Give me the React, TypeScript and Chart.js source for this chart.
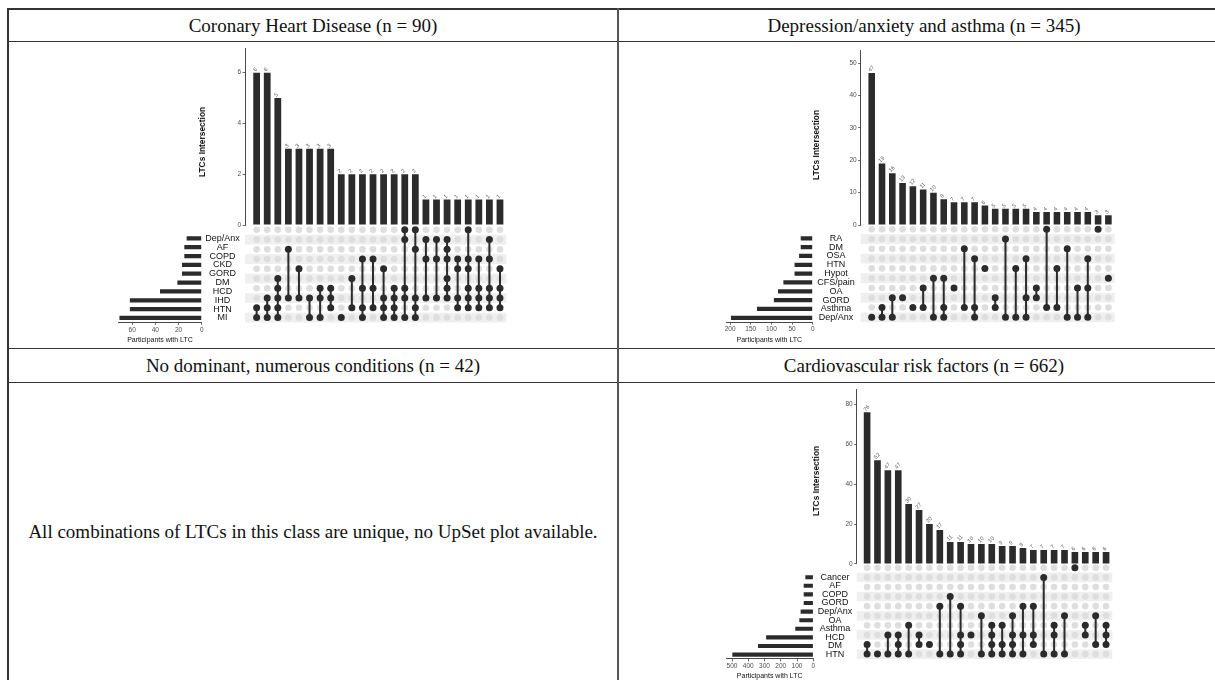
import React, { useEffect, useRef } from "react";
import { Chart, registerables } from "chart.js";

Chart.register(...registerables);
Chart.defaults.font.family = "'Liberation Sans', Arial, sans-serif";

// ---------------- Coronary Heart Disease ----------------
const chdSets = ["Dep/Anx", "AF", "COPD", "CKD", "GORD", "DM", "HCD", "IHD", "HTN", "MI"];
const chdSetSizes = [13, 15, 15, 17, 17, 21, 36, 62, 62, 71];
const chdCounts = [6, 6, 5, 3, 3, 3, 3, 3, 2, 2, 2, 2, 2, 2, 2, 2, 1, 1, 1, 1, 1, 1, 1, 1];
const chdCombos = [
  ["HTN", "MI"],
  ["IHD", "HTN", "MI"],
  ["DM", "HCD", "IHD", "HTN", "MI"],
  ["COPD", "IHD"],
  ["GORD", "IHD"],
  ["IHD", "MI"],
  ["HCD", "IHD", "MI"],
  ["HCD", "IHD", "HTN"],
  ["MI"],
  ["DM", "HTN"],
  ["CKD", "HCD", "HTN", "MI"],
  ["CKD", "HCD", "HTN"],
  ["GORD", "IHD", "HTN", "MI"],
  ["HCD", "IHD", "HTN", "MI"],
  ["Dep/Anx", "AF", "HCD", "IHD", "MI"],
  ["Dep/Anx", "COPD", "IHD", "HTN", "MI"],
  ["AF", "CKD", "IHD"],
  ["AF", "CKD", "IHD"],
  ["AF", "COPD", "CKD", "DM", "HCD", "IHD"],
  ["CKD", "GORD", "IHD", "HTN"],
  ["Dep/Anx", "CKD", "GORD", "HCD", "IHD", "HTN"],
  ["CKD", "HCD", "IHD", "HTN"],
  ["AF", "CKD", "HCD", "IHD", "HTN"],
  ["GORD", "HCD", "IHD", "HTN"],
];
const chdCountTicks = [0, 2, 4, 6];
const chdSizeTicks = [0, 20, 40, 60];

// ---------------- Depression/anxiety and asthma ----------------
const daSets = ["RA", "DM", "OSA", "HTN", "Hypot", "CFS/pain", "OA", "GORD", "Asthma", "Dep/Anx"];
const daSetSizes = [29, 29, 33, 44, 44, 71, 84, 94, 135, 198];
const daCounts = [47, 19, 16, 13, 12, 11, 10, 8, 7, 7, 7, 6, 5, 5, 5, 5, 4, 4, 4, 4, 4, 4, 3, 3];
const daCombos = [
  ["Dep/Anx"],
  ["Asthma", "Dep/Anx"],
  ["GORD", "Dep/Anx"],
  ["GORD"],
  ["Asthma"],
  ["OA", "Asthma"],
  ["CFS/pain", "Dep/Anx"],
  ["CFS/pain", "Asthma", "Dep/Anx"],
  ["OA"],
  ["OSA", "Asthma"],
  ["HTN", "Asthma", "Dep/Anx"],
  ["Hypot"],
  ["GORD", "Asthma"],
  ["DM", "Dep/Anx"],
  ["Hypot", "Dep/Anx"],
  ["HTN", "GORD", "Dep/Anx"],
  ["OA", "GORD"],
  ["RA", "Asthma"],
  ["Hypot", "Asthma"],
  ["OSA", "Dep/Anx"],
  ["OA", "Dep/Anx"],
  ["HTN", "OA", "Dep/Anx"],
  ["RA"],
  ["CFS/pain"],
];
const daCountTicks = [0, 10, 20, 30, 40, 50];
const daSizeTicks = [0, 50, 100, 150, 200];

// ---------------- Cardiovascular risk factors ----------------
const cvSets = ["Cancer", "AF", "COPD", "GORD", "Dep/Anx", "OA", "Asthma", "HCD", "DM", "HTN"];
const cvSetSizes = [49, 59, 59, 59, 78, 86, 111, 290, 340, 498];
const cvCounts = [76, 52, 47, 47, 30, 27, 20, 17, 11, 11, 10, 10, 10, 9, 9, 8, 7, 7, 7, 7, 6, 6, 6, 6];
const cvCombos = [
  ["DM", "HTN"],
  ["HTN"],
  ["HCD", "HTN"],
  ["HCD", "DM", "HTN"],
  ["Asthma", "HTN"],
  ["HCD", "DM"],
  ["DM"],
  ["Dep/Anx", "HTN"],
  ["GORD", "HTN"],
  ["Dep/Anx", "HCD", "DM", "HTN"],
  ["HCD"],
  ["OA", "HTN"],
  ["Asthma", "HCD", "DM", "HTN"],
  ["Asthma", "DM", "HTN"],
  ["OA", "HCD", "DM", "HTN"],
  ["Dep/Anx", "HCD", "HTN"],
  ["Dep/Anx", "HCD", "DM"],
  ["AF", "HTN"],
  ["Asthma", "HCD", "HTN"],
  ["OA", "HTN"],
  ["Cancer"],
  ["Asthma", "HCD"],
  ["OA", "DM"],
  ["Asthma", "HCD", "DM"],
];
const cvCountTicks = [0, 20, 40, 60, 80];
const cvSizeTicks = [0, 100, 200, 300, 400, 500];

const DARK = "#2b2b2b";
const LIGHT = "#dedede";
const STRIPE = "#efefef";
const TICK_GREY = "#4d4d4d";

type Geom = {
  axisX: number; dx: number; xMin: number; xMax: number;
  barTop: number; barBottom: number; yMax: number;
  matTop: number; matBottom: number;
  zeroX: number; sizeLeft: number; sizeMax: number;
  titleX: number; titleY: number; labelPad: number;
};

function layoutOf(g: Geom) {
  const areaW = (g.xMax - g.xMin) * g.dx;
  const bL = Math.round(g.axisX - 40), bT = Math.round(g.barTop - 10);
  const bYW = g.axisX - bL;
  const bPadT = g.barTop - bT;
  const bW = Math.ceil(bYW + areaW + 6);
  const bH = Math.ceil(g.barBottom - bT + 6);
  const bPadR = bW - bYW - areaW;
  const bPadB = bH - (g.barBottom - bT);

  const matH = g.matBottom - g.matTop;
  const mL = Math.round(g.axisX - 6), mT = Math.round(g.matTop - 6);
  const mPadL = g.axisX - mL, mPadT = g.matTop - mT;
  const mW = Math.ceil(mPadL + areaW + 6), mH = Math.ceil(mPadT + matH + 6);
  const mPadR = mW - mPadL - areaW, mPadB = mH - mPadT - matH;

  const sL = Math.round(g.sizeLeft - 6), sT = Math.floor(g.matTop);
  const sPadL = g.sizeLeft - sL, sPadT = g.matTop - sT;
  const labW = g.axisX - g.zeroX;
  const barsW = g.zeroX - g.sizeLeft;
  const sW = Math.ceil(sPadL + barsW + labW);
  const sPadR = sW - sPadL - barsW - labW;
  const sH = Math.ceil(sPadT + matH + 24);
  const sAxisH = sH - sPadT - matH;

  return {
    bar: { left: bL, top: bT, w: bW, h: bH, yW: bYW, pad: { top: bPadT, right: bPadR, bottom: bPadB, left: 0 } },
    mat: { left: mL, top: mT, w: mW, h: mH, pad: { top: mPadT, right: mPadR, bottom: mPadB, left: mPadL } },
    size: { left: sL, top: sT, w: sW, h: sH, labW, axisH: sAxisH, pad: { top: sPadT, right: sPadR, bottom: 0, left: sPadL } },
  };
}

type UpSetProps = {
  sets: string[]; setSizes: number[]; counts: number[]; combos: string[][];
  countTicks: number[]; sizeTicks: number[]; g: Geom;
};

function UpSet({ sets, setSizes, counts, combos, countTicks, sizeTicks, g }: UpSetProps) {
  const barRef = useRef<HTMLCanvasElement>(null);
  const matRef = useRef<HTMLCanvasElement>(null);
  const sizeRef = useRef<HTMLCanvasElement>(null);
  const L = layoutOf(g);

  useEffect(() => {
    const charts: Chart[] = [];
    const n = sets.length;

    const valueLabels = {
      id: "valueLabels",
      afterDatasetsDraw(chart: any) {
        const meta = chart.getDatasetMeta(0);
        const ctx = chart.ctx;
        ctx.save();
        ctx.font = "5.5px 'Liberation Sans'";
        ctx.fillStyle = "#555";
        ctx.textAlign = "left";
        ctx.textBaseline = "middle";
        meta.data.forEach((el: any, i: number) => {
          ctx.save();
          ctx.translate(el.x - 2.5, el.y - 2);
          ctx.rotate(-Math.PI / 4);
          ctx.fillText(String(counts[i]), 0, 0);
          ctx.restore();
        });
        ctx.restore();
      },
    };

    // Intersection size bars
    charts.push(
      new Chart(barRef.current!, {
        type: "bar",
        data: {
          datasets: [
            {
              data: counts.map((c, i) => ({ x: i, y: c })),
              backgroundColor: DARK,
              barPercentage: 0.64,
              categoryPercentage: 1,
            },
          ],
        },
        options: {
          animation: false,
          responsive: false,
          maintainAspectRatio: false,
          layout: { padding: L.bar.pad },
          plugins: { legend: { display: false }, tooltip: { enabled: false } },
          scales: {
            x: { type: "linear", min: g.xMin, max: g.xMax, display: false, offset: false },
            y: {
              type: "linear",
              min: 0,
              max: g.yMax,
              afterFit: (s: any) => { s.width = L.bar.yW; },
              afterBuildTicks: (s: any) => { s.ticks = countTicks.map((v) => ({ value: v })); },
              grid: { drawOnChartArea: false, tickLength: 2.5, color: "#444", lineWidth: 0.8 },
              border: { display: true, color: "#333", width: 0.9 },
              ticks: { font: { size: 6.5 }, color: TICK_GREY, padding: 1.5 },
            },
          },
        } as any,
        plugins: [valueLabels],
      })
    );

    // Matrix
    const rowOf = (name: string) => n - 1 - sets.indexOf(name);
    const activeKey = new Set<string>();
    const activePts: { x: number; y: number }[] = [];
    combos.forEach((c, i) => c.forEach((s) => { activeKey.add(i + ":" + rowOf(s)); activePts.push({ x: i, y: rowOf(s) }); }));
    const inactivePts: { x: number; y: number }[] = [];
    combos.forEach((_, i) => { for (let r = 0; r < n; r++) if (!activeKey.has(i + ":" + r)) inactivePts.push({ x: i, y: r }); });
    const lineSets = combos
      .map((c, i) => ({ i, rows: c.map(rowOf) }))
      .filter((o) => o.rows.length > 1)
      .map((o) => ({
        data: [{ x: o.i, y: Math.min(...o.rows) }, { x: o.i, y: Math.max(...o.rows) }],
        showLine: true,
        borderColor: DARK,
        borderWidth: 2,
        pointRadius: 0,
        clip: false,
        order: 1,
      }));

    const stripes = {
      id: "stripes",
      beforeDatasetsDraw(chart: any) {
        const { ctx, chartArea, scales } = chart;
        ctx.save();
        ctx.fillStyle = STRIPE;
        for (let r = 0; r < n; r += 2) {
          const y1 = scales.y.getPixelForValue(r + 0.5);
          const y2 = scales.y.getPixelForValue(r - 0.5);
          ctx.fillRect(chartArea.left, y1, chartArea.right - chartArea.left, y2 - y1);
        }
        ctx.restore();
      },
    };

    charts.push(
      new Chart(matRef.current!, {
        type: "scatter",
        data: {
          datasets: [
            { data: activePts, pointRadius: 3.5, backgroundColor: DARK, borderWidth: 0, clip: false, order: 0 },
            ...lineSets,
            { data: inactivePts, pointRadius: 3.3, backgroundColor: LIGHT, borderWidth: 0, clip: false, order: 2 },
          ],
        },
        options: {
          animation: false,
          responsive: false,
          maintainAspectRatio: false,
          layout: { padding: L.mat.pad },
          plugins: { legend: { display: false }, tooltip: { enabled: false } },
          scales: {
            x: { type: "linear", min: g.xMin, max: g.xMax, display: false },
            y: { type: "linear", min: -0.5, max: n - 0.5, display: false },
          },
        } as any,
        plugins: [stripes],
      })
    );

    // Set sizes
    charts.push(
      new Chart(sizeRef.current!, {
        type: "bar",
        data: {
          labels: sets,
          datasets: [{ data: setSizes, backgroundColor: DARK, barPercentage: 0.48, categoryPercentage: 1 }],
        },
        options: {
          indexAxis: "y",
          animation: false,
          responsive: false,
          maintainAspectRatio: false,
          layout: { padding: L.size.pad },
          plugins: { legend: { display: false }, tooltip: { enabled: false } },
          scales: {
            x: {
              type: "linear",
              min: 0,
              max: g.sizeMax,
              reverse: true,
              position: "bottom",
              afterFit: (s: any) => { s.height = L.size.axisH; },
              afterBuildTicks: (s: any) => { s.ticks = sizeTicks.map((v) => ({ value: v })); },
              grid: { drawOnChartArea: false, tickLength: 2.5, color: "#444", lineWidth: 0.8 },
              border: { display: true, color: "#333", width: 0.9 },
              ticks: { font: { size: 6.5 }, color: TICK_GREY, padding: 1, autoSkip: false, maxRotation: 0 },
              title: {
                display: true,
                text: "Participants with LTC",
                font: { size: 7 },
                color: "#111",
                padding: { top: 0, bottom: 2.5 },
              },
            },
            y: {
              type: "category",
              position: "right",
              afterFit: (s: any) => { s.width = L.size.labW; },
              grid: { display: false, drawTicks: false },
              border: { display: false },
              ticks: { font: { size: 9 }, color: "#111", crossAlign: "center", padding: g.labelPad, autoSkip: false },
            },
          },
        } as any,
      })
    );

    return () => charts.forEach((c) => c.destroy());
  }, []);

  const cv = (ref: any, b: { left: number; top: number; w: number; h: number }) => (
    <canvas
      ref={ref}
      width={b.w}
      height={b.h}
      style={{ position: "absolute", left: b.left, top: b.top, width: b.w, height: b.h }}
    />
  );

  return (
    <>
      {cv(matRef, L.mat)}
      {cv(sizeRef, L.size)}
      {cv(barRef, L.bar)}
      <div
        style={{
          position: "absolute",
          left: g.titleX,
          top: g.titleY,
          transform: "translate(-50%, -50%) rotate(-90deg)",
          fontFamily: "'Liberation Sans', Arial, sans-serif",
          fontWeight: "bold",
          fontSize: 8.4,
          lineHeight: "10px",
          color: "#111",
          whiteSpace: "nowrap",
        }}
      >
        LTCs Intersection
      </div>
    </>
  );
}

const chdGeom: Geom = {
  axisX: 245, dx: 10.58, xMin: -1.1, xMax: 23.6, barTop: 48, barBottom: 225, yMax: 6.97,
  matTop: 225, matBottom: 322.4, zeroX: 201.7, sizeLeft: 118.3, sizeMax: 72,
  titleX: 202, titleY: 142, labelPad: 3.5,
};
const daGeom: Geom = {
  axisX: 860.7, dx: 10.29, xMin: -1.07, xMax: 23.6, barTop: 50.7, barBottom: 225, yMax: 53.9,
  matTop: 224.4, matBottom: 322.2, zeroX: 812.7, sizeLeft: 726, sizeMax: 210,
  titleX: 816, titleY: 145, labelPad: 4.5,
};
const cvGeom: Geom = {
  axisX: 856.7, dx: 10.39, xMin: -1.0, xMax: 23.6, barTop: 389, barBottom: 563.9, yMax: 87.7,
  matTop: 563, matBottom: 658.9, zeroX: 813.3, sizeLeft: 726, sizeMax: 537,
  titleX: 816, titleY: 481, labelPad: 4.5,
};

const line = (left: number, top: number, width: number, height: number, color = "#333") => (
  <div style={{ position: "absolute", left, top, width, height, background: color }} />
);

const headerStyle = (left: number, top: number, width: number, height: number): React.CSSProperties => ({
  position: "absolute",
  left,
  top,
  width,
  height,
  display: "flex",
  alignItems: "center",
  justifyContent: "center",
  fontFamily: "'Liberation Serif', 'Times New Roman', serif",
  fontSize: 19,
  color: "#111",
  whiteSpace: "nowrap",
});

export default function App() {
  return (
    <div style={{ position: "absolute", left: 0, top: 0, width: 1215, height: 680, overflow: "hidden", background: "#fff" }}>
      {line(7, 8, 1215, 2)}
      {line(7, 8, 2, 680)}
      {line(7, 41, 1215, 1.4)}
      {line(7, 348, 1215, 1.4)}
      {line(7, 382, 1215, 1.4)}
      {line(617, 8, 1.8, 680, "#555")}

      <div style={headerStyle(9, 10, 608, 31)}>Coronary Heart Disease (n = 90)</div>
      <div style={headerStyle(619, 10, 610, 31)}>Depression/anxiety and asthma (n = 345)</div>
      <div style={headerStyle(9, 349, 608, 33)}>No dominant, numerous conditions (n = 42)</div>
      <div style={headerStyle(619, 349, 610, 33)}>Cardiovascular risk factors (n = 662)</div>
      <div style={headerStyle(9, 383, 608, 297)}>
        All combinations of LTCs in this class are unique, no UpSet plot available.
      </div>

      <UpSet sets={chdSets} setSizes={chdSetSizes} counts={chdCounts} combos={chdCombos}
        countTicks={chdCountTicks} sizeTicks={chdSizeTicks} g={chdGeom} />
      <UpSet sets={daSets} setSizes={daSetSizes} counts={daCounts} combos={daCombos}
        countTicks={daCountTicks} sizeTicks={daSizeTicks} g={daGeom} />
      <UpSet sets={cvSets} setSizes={cvSetSizes} counts={cvCounts} combos={cvCombos}
        countTicks={cvCountTicks} sizeTicks={cvSizeTicks} g={cvGeom} />
    </div>
  );
}
